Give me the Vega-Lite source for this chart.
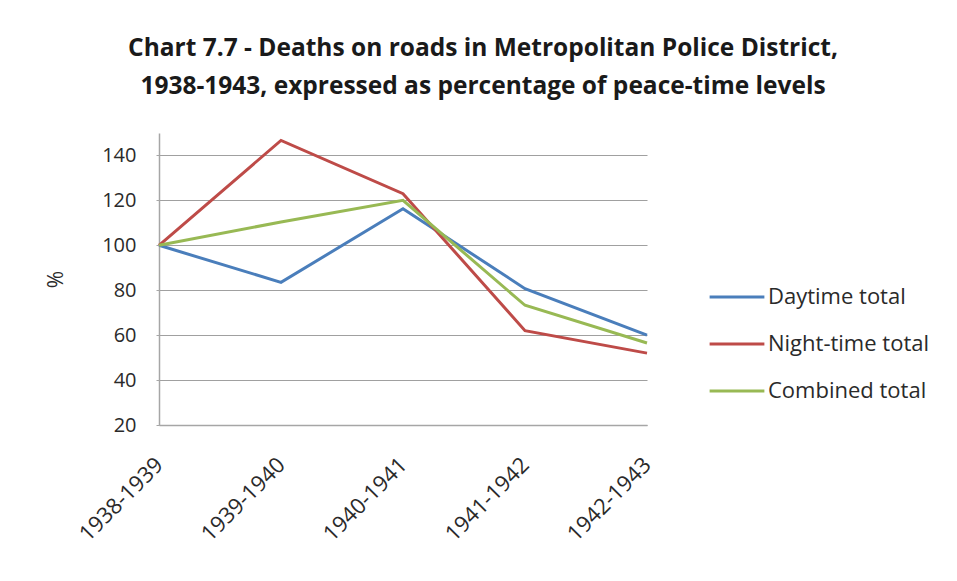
{
  "$schema": "https://vega.github.io/schema/vega-lite/v6.json",
  "autosize": {"type": "none"},
  "width": 488,
  "height": 292,
  "padding": {"left": 159, "top": 133, "right": 310, "bottom": 156},
  "background": "white",
  "title": {
    "text": ["Chart 7.7 - Deaths on roads in Metropolitan Police District,", "1938-1943, expressed as percentage of peace-time levels"],
    "font": "Open Sans",
    "fontSize": 24.5,
    "fontWeight": "bold",
    "color": "#1a1a1a",
    "anchor": "middle",
    "dx": 80,
    "lineHeight": 38,
    "offset": 34
  },
  "data": {
    "values": [
      {"period": "1938-1939", "series": "Daytime total", "value": 100},
      {"period": "1939-1940", "series": "Daytime total", "value": 83.5},
      {"period": "1940-1941", "series": "Daytime total", "value": 116.3},
      {"period": "1941-1942", "series": "Daytime total", "value": 80.7},
      {"period": "1942-1943", "series": "Daytime total", "value": 60},
      {"period": "1938-1939", "series": "Night-time total", "value": 100},
      {"period": "1939-1940", "series": "Night-time total", "value": 146.7},
      {"period": "1940-1941", "series": "Night-time total", "value": 123},
      {"period": "1941-1942", "series": "Night-time total", "value": 62},
      {"period": "1942-1943", "series": "Night-time total", "value": 52},
      {"period": "1938-1939", "series": "Combined total", "value": 100},
      {"period": "1939-1940", "series": "Combined total", "value": 110.4},
      {"period": "1940-1941", "series": "Combined total", "value": 120},
      {"period": "1941-1942", "series": "Combined total", "value": 73.3},
      {"period": "1942-1943", "series": "Combined total", "value": 56.5}
    ]
  },
  "mark": {"type": "line", "strokeWidth": 3, "clip": false},
  "encoding": {
    "x": {
      "field": "period",
      "type": "ordinal",
      "scale": {"type": "point", "padding": 0},
      "axis": {
        "title": null,
        "labelAngle": -45,
        "labelAlign": "right",
        "labelBaseline": "middle",
        "labelFont": "Open Sans",
        "labelFontSize": 22,
        "labelColor": "#2a2a2a",
        "labelPadding": 36,
        "ticks": false,
        "grid": false,
        "domainColor": "#a6a6a6",
        "domainWidth": 1.5
      }
    },
    "y": {
      "field": "value",
      "type": "quantitative",
      "scale": {"domain": [20, 150], "nice": false, "zero": false},
      "axis": {
        "title": "%",
        "titleFont": "Open Sans",
        "titleFontSize": 21,
        "titleFontWeight": "normal",
        "titleColor": "#2a2a2a",
        "titlePadding": 35,
        "values": [20, 40, 60, 80, 100, 120, 140],
        "labelFont": "Open Sans",
        "labelFontSize": 20,
        "labelColor": "#2a2a2a",
        "labelPadding": 20,
        "tickSize": 3,
        "tickColor": "#a6a6a6",
        "gridColor": "#a0a0a0",
        "gridWidth": 1.2,
        "domainColor": "#a6a6a6",
        "domainWidth": 1.5
      }
    },
    "color": {
      "field": "series",
      "type": "nominal",
      "sort": ["Daytime total", "Night-time total", "Combined total"],
      "scale": {"domain": ["Daytime total", "Night-time total", "Combined total"], "range": ["#4a7ebb", "#be4b48", "#98b954"]},
      "legend": {
        "title": null,
        "orient": "none",
        "legendX": 549,
        "legendY": 135,
        "symbolType": "stroke",
        "symbolSize": 3000,
        "symbolStrokeWidth": 3,
        "labelFont": "Open Sans",
        "labelFontSize": 22,
        "labelLimit": 300,
        "labelColor": "#2a2a2a",
        "labelOffset": 2,
        "rowPadding": 7
      }
    }
  },
  "config": {"view": {"stroke": null}}
}
